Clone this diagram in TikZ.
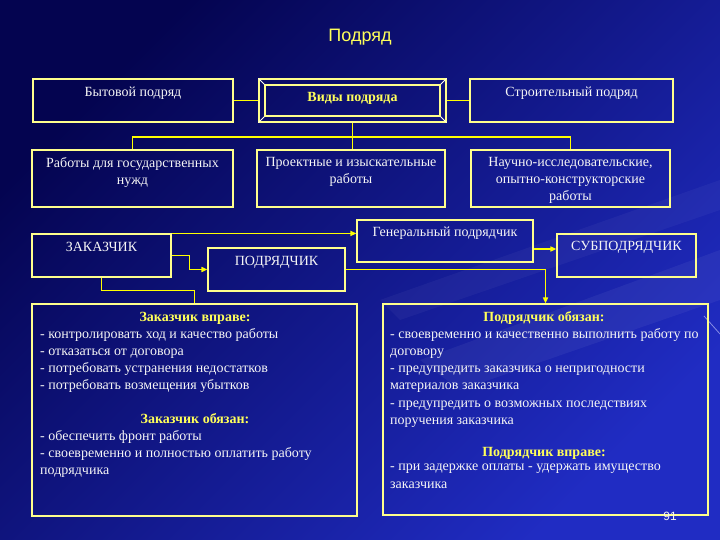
\documentclass[tikz,border=0pt]{standalone}
\usepackage{fontspec}
\setmainfont{Liberation Serif}
\newfontfamily\sansf{Liberation Sans}
\usetikzlibrary{arrows.meta,calc}
\definecolor{bgA}{RGB}{4,4,80}
\definecolor{bgB}{RGB}{32,44,195}
\definecolor{boxline}{RGB}{255,255,140}
\definecolor{arrowy}{RGB}{255,255,0}
\definecolor{heady}{RGB}{255,255,90}
\definecolor{txtc}{RGB}{245,245,245}
\begin{document}
\begin{tikzpicture}[x=1pt,y=-1pt,
  box/.style={draw=boxline,line width=1.1pt,inner sep=0pt},
  lbl/.style={text=txtc,font=\fontsize{14}{17.2}\selectfont,inner sep=0pt,align=center},
  body/.style={text=txtc,font=\fontsize{14}{17.2}\selectfont,inner sep=0pt,align=left,anchor=north west},
  head/.style={text=heady,font=\fontsize{14}{17.2}\selectfont\bfseries,inner sep=0pt},
  conn/.style={draw=arrowy,line width=1.5pt},
  arr/.style={conn,-{Triangle[length=6pt,width=5pt]}},
  bevel/.style={draw=white!85!boxline,line width=0.8pt}]
\useasboundingbox (0,0) rectangle (720,540);
% background
\shade[top color=bgA, bottom color=bgB, shading angle=45] (0,0) rectangle (720,540);
\fill[white,opacity=0.05] (420,360) -- (720,250) -- (720,300) -- (460,390) -- cycle;
\fill[white,opacity=0.04] (380,300) -- (720,180) -- (720,210) -- (400,320) -- cycle;
\draw[white!80!blue,opacity=0.6,line width=0.8pt] (704,316) -- (720,334);

% title
\node[text=heady,font=\sansf\fontsize{18}{20}\selectfont,inner sep=0pt] (title) at (360,37) {Подряд};

% top row
\node[box,minimum width=200pt,minimum height=43pt] (byt) at (133,100.5) {};
\node[box,minimum width=187pt,minimum height=43pt] (vidy) at (352.5,100.5) {};
\node[box,minimum width=175pt,minimum height=31pt] (vidyin) at (352.5,100.5) {};
\draw[bevel] (vidy.north west) -- (vidyin.north west);
\draw[bevel] (vidy.north east) -- (vidyin.north east);
\draw[bevel] (vidy.south west) -- (vidyin.south west);
\draw[bevel] (vidy.south east) -- (vidyin.south east);
\node[box,minimum width=203pt,minimum height=43pt] (stroi) at (571.5,100.5) {};
\node[lbl] (tbyt) at (133,93) {Бытовой подряд};
\node[head] (tvidy) at (352.5,98) {Виды подряда};
\node[lbl] (tstroi) at (571.5,93) {Строительный подряд};

% second row
\node[box,minimum width=201pt,minimum height=57pt] (gos) at (132.5,178.5) {};
\node[box,minimum width=188pt,minimum height=57pt] (proekt) at (351,178.5) {};
\node[box,minimum width=199pt,minimum height=57pt] (nauch) at (570.5,178.5) {};
\node[lbl,anchor=north] (tgos) at (132.5,157) {Работы для государственных\\нужд};
\node[lbl,anchor=north] (tproekt) at (351,157) {Проектные и изыскательные\\работы};
\node[lbl,anchor=north] (tnauch) at (570.5,157) {Научно-исследовательские,\\опытно-конструкторские\\работы};

% connectors top
\draw[conn] (byt.east) -- (vidy.west);
\draw[conn] (vidy.east) -- (stroi.east -| stroi.west);
\coordinate (br) at (352.5,137);
\draw[conn] (vidy.south) -- (br) -- (proekt.north -| vidy.south);
\draw[conn] (br) -| (gos.north);
\draw[conn] (br) -| (nauch.north);

% third row
\node[box,minimum width=139pt,minimum height=43pt] (zak) at (101.5,255.5) {};
\node[box,minimum width=137pt,minimum height=43pt] (podr) at (276.5,269.5) {};
\node[box,minimum width=176pt,minimum height=42pt] (gen) at (445,241) {};
\node[box,minimum width=139pt,minimum height=43pt] (sub) at (626.5,255.5) {};
\node[lbl] (tzak) at (101.5,247) {ЗАКАЗЧИК};
\node[lbl] (tpodr) at (276.5,262) {ПОДРЯДЧИК};
\node[lbl] (tgen) at (445,233) {Генеральный подрядчик};
\node[lbl] (tsub) at (626.5,247) {СУБПОДРЯДЧИК};

% big boxes
\node[box,minimum width=325pt,minimum height=212pt] (lbig) at (194.5,410) {};
\node[box,minimum width=325pt,minimum height=211pt] (rbig) at (545.5,409.5) {};

% connectors lower
\draw[arr] (zak.north east) -- (zak.north east -| gen.west);
\draw[arr] (zak.east) -- ++(18,0) |- (podr.west);
\draw[conn] (zak.south) -- ++(0,13) -| (lbig.north);
\draw[arr] ([yshift=-8pt]gen.east) -- ([yshift=-8pt]gen.east -| sub.west);
\draw[arr] (podr.east) -| (rbig.north);

% left big text
\node[head] (lh1) at (195,318) {Заказчик вправе:};
\node[body] (lb1) at (40,328) {- контролировать ход и качество работы\\- отказаться от договора\\- потребовать устранения недостатков\\- потребовать возмещения убытков};
\node[head] (lh2) at (195,419) {Заказчик обязан:};
\node[body] (lb2) at (40,430) {- обеспечить фронт работы\\- своевременно и полностью оплатить работу\\подрядчика};

% right big text
\node[head] (rh1) at (544,318) {Подрядчик обязан:};
\node[body] (rb1) at (390,328) {- своевременно и качественно выполнить работу по\\договору\\- предупредить заказчика о непригодности\\материалов заказчика\\- предупредить о возможных последствиях\\поручения заказчика};
\node[head] (rh2) at (544,453) {Подрядчик вправе:};
\node[body] (rb2) at (390,464) {- при задержке оплаты - удержать имущество\\заказчика};

\node[text=txtc,font=\sansf\fontsize{12}{14}\selectfont,inner sep=0pt] (pg) at (670,516) {91};
\end{tikzpicture}
\end{document}
